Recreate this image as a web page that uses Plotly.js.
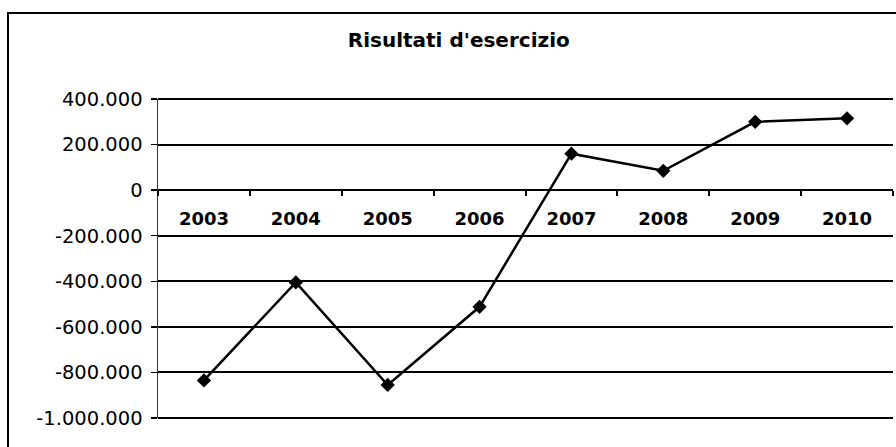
<!DOCTYPE html>
<html>
<head>
<meta charset="utf-8">
<script src="https://cdn.plot.ly/plotly-3.0.1.min.js"></script>
<style>
  html, body { margin: 0; padding: 0; background: #fff; }
  #chart { width: 896px; height: 447px; position: relative; }
  #frame { position: absolute; left: 7px; top: 12px; width: 900px; height: 450px;
           border-left: 2px solid #000; border-top: 2px solid #000; pointer-events: none; }
</style>
</head>
<body>
<div id="chart"></div>
<div id="frame"></div>
<script>
// anni e risultati
const years = ['2003', '2004', '2005', '2006', '2007', '2008', '2009', '2010'];
const results = [-835000, -405000, -855000, -512000, 160000, 85000, 300000, 315000];

const yTicks = [400000, 200000, 0, -200000, -400000, -600000, -800000, -1000000];
const yTickText = ['400.000', '200.000', '0', '-200.000', '-400.000', '-600.000', '-800.000', '-1.000.000'];

const yMin = -1000000;
const yMax = 400000;

var trace = {
    x: years,
    y: results,
    type: 'scatter',
    mode: 'lines+markers',
    line: { color: '#000', width: 2.5 },
    marker: { symbol: 'diamond', size: 11, color: '#000' },
    hoverinfo: 'x+y'
};

var layout = {
    width: 896,
    height: 447,
    margin: { l: 158, r: 3, t: 99, b: 29 },
    paper_bgcolor: '#fff',
    plot_bgcolor: '#fff',
    showlegend: false,
    font: { family: 'DejaVu Sans, Verdana, sans-serif', color: '#000' },
    title: {
        text: "<b>Risultati d'esercizio</b>",
        font: { size: 20, color: '#000' },
        x: 0.512, xanchor: 'center',
        y: 0.91, yanchor: 'middle'
    },
    xaxis: {
        type: 'category',
        anchor: 'free',
        // the category axis sits on the zero line
        position: (0 - yMin) / (yMax - yMin),
        showline: true,
        linecolor: '#000',
        linewidth: 2,
        showgrid: false,
        ticks: 'outside',
        tickson: 'boundaries',
        ticklen: 5,
        tickwidth: 2,
        tickcolor: '#000',
        tickfont: { size: 18, color: '#000', family: 'DejaVu Sans, sans-serif', weight: 'bold' },
        ticklabelstandoff: 12,
        range: [-0.5, 7.5],
        fixedrange: true
    },
    yaxis: {
        range: [yMin, yMax],
        tickvals: yTicks,
        ticktext: yTickText,
        showgrid: true,
        gridcolor: '#000',
        gridwidth: 2,
        zeroline: false,
        showline: true,
        linecolor: '#333',
        linewidth: 1.5,
        ticks: 'outside',
        ticklen: 6,
        tickwidth: 1.5,
        tickcolor: '#000',
        tickfont: { size: 19.5, color: '#000' },
        ticklabelstandoff: 4,
        fixedrange: true
    },
    // top and bottom edges of the plot area (gridlines at 400.000 and -1.000.000)
    shapes: [
        { type: 'line', xref: 'paper', yref: 'paper', x0: 0, x1: 1, y0: 1, y1: 1,
          line: { color: '#000', width: 2 } },
        { type: 'line', xref: 'paper', yref: 'paper', x0: 0, x1: 1, y0: 0, y1: 0,
          line: { color: '#000', width: 2 } }
    ]
};

Plotly.newPlot('chart', [trace], layout, { staticPlot: true });
</script>
</body>
</html>
